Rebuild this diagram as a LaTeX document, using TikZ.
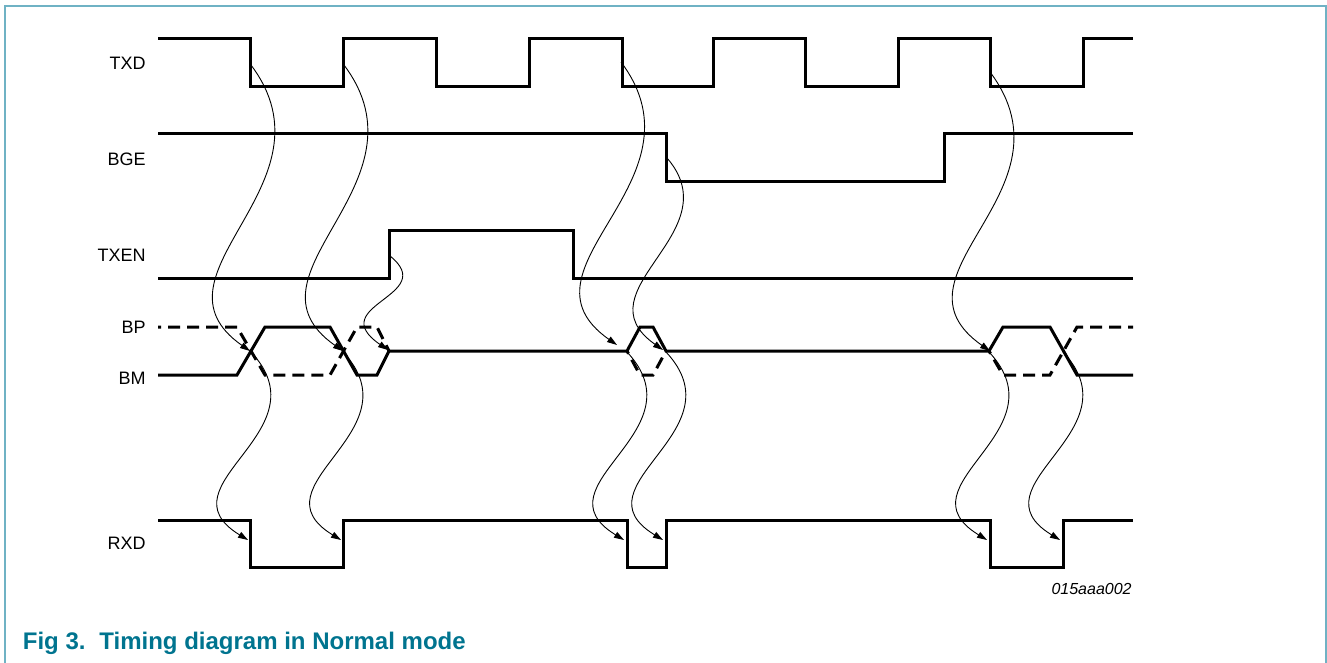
\documentclass[tikz,border=0pt]{standalone}
\usepackage{fontspec}
\setmainfont{Liberation Sans}
\usetikzlibrary{arrows.meta}
\definecolor{framecol}{RGB}{111,178,196}
\definecolor{captxt}{RGB}{0,116,143}

\begin{document}
\begin{tikzpicture}[x=0.5pt, y=-0.5pt,
  sig/.style={line width=1.5pt},
  sigdash/.style={sig, dash pattern=on 6pt off 3.5pt, dash phase=4.5pt},
  dep/.style={line width=0.45pt, -{Triangle[length=5pt,width=3.2pt]}},
  lbl/.style={anchor=east, inner sep=0pt, font=\fontsize{9}{10}\selectfont},
  captext/.style={anchor=base west, inner sep=0pt, text=captxt, font=\fontsize{12}{14}\selectfont\bfseries}]
\useasboundingbox (0,0) rectangle (1327,663);
\draw[framecol, line width=1pt] (5,663) -- (5,6) -- (1326,6) -- (1326,663);

% signal names
\node[lbl] (txd) at (146,63) {TXD};
\node[lbl] (bge) at (146,159) {BGE};
\node[lbl] (txen) at (146,255) {TXEN};
\node[lbl] (bp) at (146,327) {BP};
\node[lbl] (bm) at (146,378) {BM};
\node[lbl] (rxd) at (146,543) {RXD};

% waveforms
\draw[sig] (158,39) -| (250,87) -| (343,39) -| (436,87) -| (529,39) -| (622,87) -| (713,39)
  -| (805,87) -| (898,39) -| (990,87) -| (1083,39) -- (1133,39);
\draw[sig] (158,134) -| (666,182) -| (944,134) -- (1133,134);
\draw[sig] (158,278) -| (389,231) -| (573,278) -- (1133,278);
\draw[sig] (158,375) -- (237,375) -- (265,327) -- (330,327) -- (357,375) -- (377,375) -- (389,351)
  -- (627,351) -- (640,327) -- (653,327) -- (666,351) -- (989,351) -- (1003,327) -- (1050,327)
  -- (1077,375) -- (1133,375);
\draw[sigdash] (158,327) -- (237,327) -- (265,375) -- (330,375) -- (357,327) -- (377,327) -- (389,351);
\draw[sigdash] (627,351) -- (640,375) -- (653,375) -- (666,351);
\draw[sigdash] (989,351) -- (1003,375) -- (1050,375) -- (1077,327) -- (1133,327);
\draw[sig] (158,520) -| (250,567) -| (343,520) -| (627,567) -| (666,520) -| (990,567) -| (1063,520) -- (1133,520);

% edge points
\coordinate (t1) at (251,65);
\coordinate (t2) at (344,65);
\coordinate (t3) at (621,62);
\coordinate (t4) at (990,72);
\coordinate (g1) at (667,158);
\coordinate (e1) at (390,256);
\coordinate (x1) at (250,351);
\coordinate (x2) at (343,351);
\coordinate (x3) at (388,350);
\coordinate (x4) at (617,345);
\coordinate (x5) at (663,350);
\coordinate (x6) at (990,351);
\coordinate (c1) at (251,352);
\coordinate (c2) at (343,352);
\coordinate (c3) at (627,352);
\coordinate (c4) at (666,352);
\coordinate (c5) at (989,352);
\coordinate (c6) at (1063,352);
\coordinate (r1) at (248,540);
\coordinate (r2) at (341,540);
\coordinate (r3) at (624,540);
\coordinate (r4) at (663,540);
\coordinate (r5) at (987,540);
\coordinate (r6) at (1060,540);

% cause -> bus
\draw[dep] (t1) .. controls +(90,120) and +(-110,-77) .. (x1);
\draw[dep] (t2) .. controls +(90,120) and +(-110,-77) .. (x2);
\draw[dep] (e1) .. controls +(50,40) and +(-65,-45) .. (x3);
\draw[dep] (t3) .. controls +(90,120) and +(-110,-77) .. (x4);
\draw[dep] (g1) .. controls +(65,75) and +(-85,-60) .. (x5);
\draw[dep] (t4) .. controls +(90,120) and +(-110,-77) .. (x6);

% bus -> RXD
\draw[dep] (c1) .. controls +(75,80) and +(-90,-55) .. (r1);
\draw[dep] (c2) .. controls +(75,80) and +(-90,-55) .. (r2);
\draw[dep] (c3) .. controls +(75,80) and +(-90,-55) .. (r3);
\draw[dep] (c4) .. controls +(75,80) and +(-90,-55) .. (r4);
\draw[dep] (c5) .. controls +(75,80) and +(-90,-55) .. (r5);
\draw[dep] (c6) .. controls +(75,80) and +(-90,-55) .. (r6);

\node[anchor=base east, inner sep=0pt, font=\fontsize{8}{9}\selectfont\itshape] (code) at (1132,594) {015aaa002};
\node[captext] (fig) at (22.5,649) {Fig 3.};
\node[captext] (title) at (99,649) {Timing diagram in Normal mode};
\end{tikzpicture}
\end{document}
